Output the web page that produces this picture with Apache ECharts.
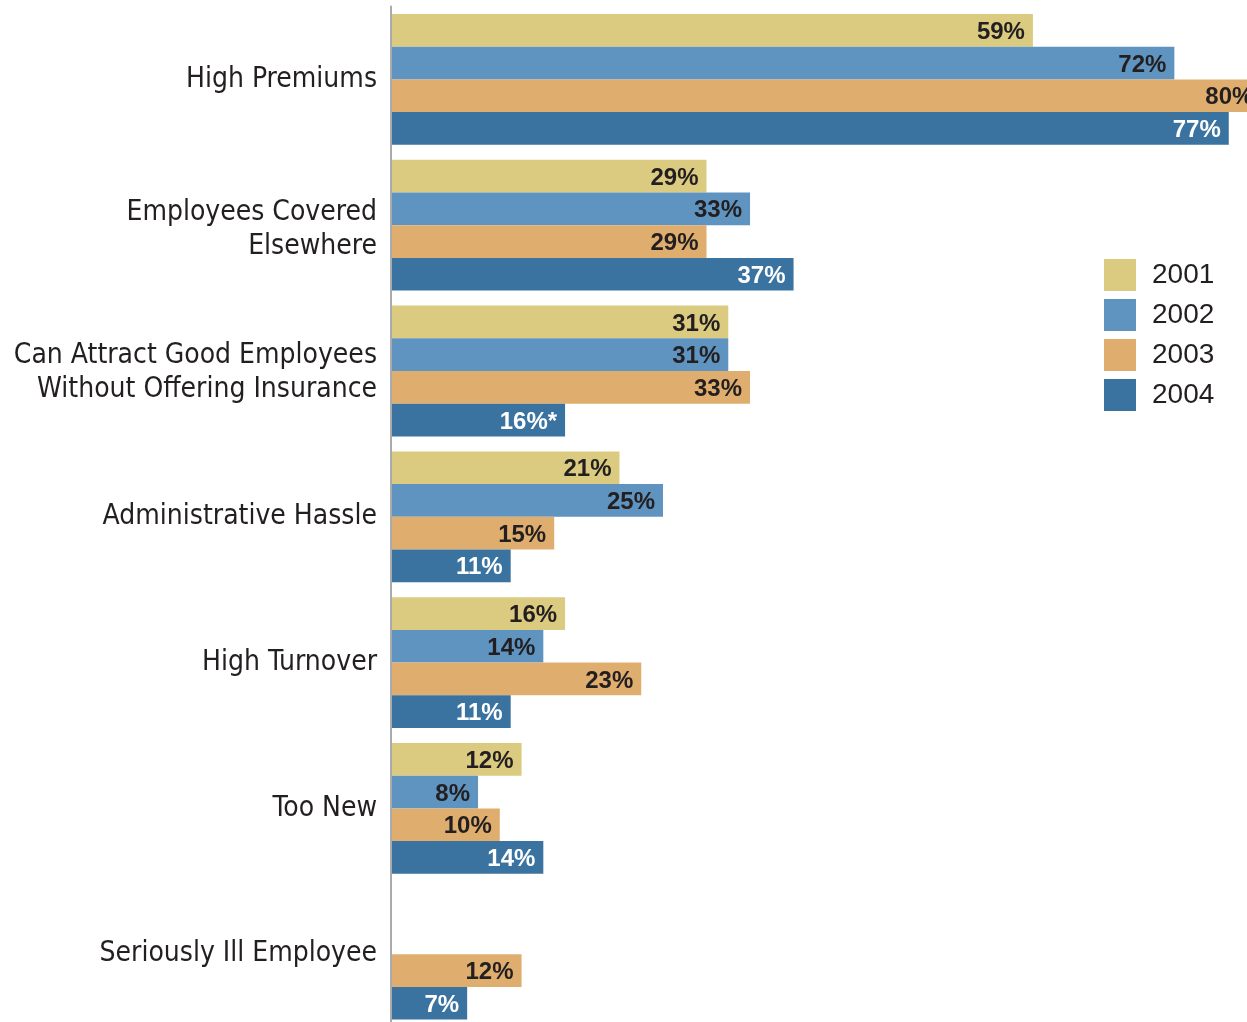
<!DOCTYPE html>
<html>
<head>
<meta charset="utf-8">
<style>
  html, body { margin: 0; padding: 0; background: #ffffff; }
  #chart { width: 1247px; height: 1022px; }
</style>
<script src="https://cdn.jsdelivr.net/npm/echarts@6/dist/echarts.min.js"></script>
</head>
<body>
<div id="chart"></div>
<script>
// Reasons given for not offering health insurance, share of firms by survey year
const categories = [
  'High Premiums',
  'Employees Covered\nElsewhere',
  'Can Attract Good Employees\nWithout Offering Insurance',
  'Administrative Hassle',
  'High Turnover',
  'Too New',
  'Seriously Ill Employee'
];
const years = ['2001', '2002', '2003', '2004'];
const values2001 = [59, 29, 31, 21, 16, 12, null];
const values2002 = [72, 33, 31, 25, 14, 8, null];
const values2003 = [80, 29, 33, 15, 23, 10, 12];
const values2004 = [77, 37, 16, 11, 11, 14, 7];
// footnote marker shown after a value
const notes2004 = ['', '', '*', '', '', '', ''];

const colors = ['#DBCB80', '#5E94BF', '#DFAE6F', '#3A72A0'];
const labelColors = ['#231F20', '#231F20', '#231F20', '#FFFFFF'];
const seriesValues = [values2001, values2002, values2003, values2004];
const seriesNotes = [null, null, null, notes2004];

const chart = echarts.init(document.getElementById('chart'), null, { renderer: 'canvas' });

const series = years.map((y, i) => ({
  name: y,
  type: 'bar',
  data: seriesValues[i],
  barWidth: 32.7,
  barGap: '0%',
  itemStyle: { color: colors[i] },
  label: {
    show: true,
    position: 'insideRight',
    distance: 8,
    offset: [0, 2],
    fontFamily: 'Liberation Sans, Arial, sans-serif',
    fontWeight: 'bold',
    fontSize: 24,
    color: labelColors[i],
    formatter: (p) => p.value + '%' + (seriesNotes[i] ? seriesNotes[i][p.dataIndex] : '')
  }
}));

const labelFont = 'Liberation Sans Narrow, DejaVu Sans Condensed, Arial Narrow, sans-serif';
const lineStyle = { fontFamily: labelFont, fontSize: 28, lineHeight: 34, color: '#231F20', align: 'right' };

// two-line labels sit a little below the band centre
function categoryLabel(value, index) {
  const lines = value.split('\n').map(l => '{a|' + l + '}');
  if (index === 1) return '{g10| }\n' + lines.join('\n');
  if (index === 2) return '{g4| }\n' + lines.join('\n');
  return lines.join('\n');
}

chart.setOption({
  animation: false,
  backgroundColor: '#ffffff',
  grid: {
    left: 391, top: 6.5, width: 1088, height: 1020.6,
    containLabel: false,
    outerBoundsMode: 'none'
  },
  legend: {
    orient: 'vertical',
    left: 1104,
    top: 259,
    itemWidth: 32,
    itemHeight: 32,
    itemGap: 8,
    icon: 'rect',
    padding: 0,
    selectedMode: false,
    data: years,
    textStyle: {
      fontFamily: 'Liberation Sans, Arial, sans-serif',
      fontSize: 28,
      color: '#231F20',
      padding: [0, 0, 0, 11]
    }
  },
  xAxis: {
    type: 'value',
    min: 0,
    max: 100,
    show: false
  },
  yAxis: {
    type: 'category',
    data: categories,
    inverse: true,
    z: 5,
    axisLine: { show: true, lineStyle: { color: '#A8ABAE', width: 2 } },
    axisTick: { show: false },
    splitLine: { show: false },
    axisLabel: {
      margin: 14,
      fontFamily: labelFont,
      fontSize: 28,
      lineHeight: 34,
      color: '#231F20',
      align: 'right',
      formatter: categoryLabel,
      rich: {
        a: lineStyle,
        g10: { fontSize: 4, lineHeight: 10, height: 10 },
        g4: { fontSize: 4, lineHeight: 4, height: 4 }
      }
    }
  },
  series: series
});
</script>
</body>
</html>
